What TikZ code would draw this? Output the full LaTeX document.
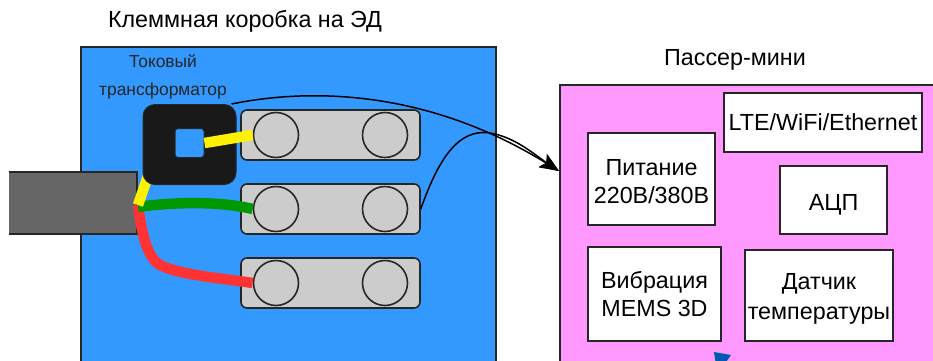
\documentclass[tikz,border=0pt]{standalone}
\usepackage{fontspec}
\setmainfont{Liberation Sans}
\usetikzlibrary{arrows.meta}
\definecolor{boxblue}{HTML}{3399FF}
\definecolor{boxpink}{HTML}{FF99FF}
\definecolor{wirered}{HTML}{FF3333}
\definecolor{wiregreen}{HTML}{009900}
\newcommand{\lowerby}[1]{\rule{0pt}{#1pt}}
\tikzset{
	panel/.style={draw=black!85,line width=1.6pt,rectangle,inner sep=0pt,anchor=north west},
	termbar/.style={draw=black!85,fill=black!20,line width=1.6pt,rectangle,rounded corners=6pt,inner sep=0pt,minimum width=179pt,minimum height=50pt},
	termpin/.style={draw=black!85,fill=black!20,line width=1.6pt,circle,inner sep=0pt,minimum size=45pt},
	modbox/.style={draw=black!85,fill=white,line width=1.6pt,rectangle,inner sep=0pt,align=center,font=\fontsize{23.3}{28}\selectfont},
	caption/.style={inner sep=0pt,font=\fontsize{23.3}{28}\selectfont},
	smallcap/.style={inner sep=0pt,text=black!85,font=\fontsize{17.4}{21}\selectfont},
	wire/.style={line width=10.5pt},
	lead/.style={draw=black,line width=1.5pt}
}
\begin{document}
\begin{tikzpicture}[x=1pt,y=-1pt]
	\useasboundingbox (0,0) rectangle (933,360);
	\fill[white] (0,0) rectangle (933,360);
	% boxes
	\node[panel,fill=boxblue,minimum width=415pt,minimum height=330pt] (junction) at (80,46) {};
	\node[panel,fill=boxpink,minimum width=390pt,minimum height=290pt] (passer) at (559,84) {};
	\node[caption] (title) at (245,21) {Клеммная коробка на ЭД};
	\node[caption] (passertitle) at (735,60) {Пассер-мини};
	\node[smallcap] (ctlabela) at (163,61) {Токовый};
	\node[smallcap] (ctlabelb) at (163,91) {трансформатор};
	% cable
	\node[fill=black!60,inner sep=0pt,minimum width=128pt,minimum height=62pt] (cable) at (73,203) {};
	\draw[black!85,line width=1.6pt] (cable.north west) -- (cable.north east) -- (cable.south east) -- (cable.south west);
	% terminals
	\foreach \n/\y in {a/135,b/209,c/283} {
		\node[termbar] (bar\n) at (330.5,\y) {};
		\node[termpin] (pin\n) at (276,\y) {};
		\node[termpin] (pout\n) at (385,\y) {};
	}
	% wires
	\coordinate (split) at (138,205);
	\coordinate (splitg) at (138,207);
	\coordinate (redbend) at (160,265);
	\draw[wire,wirered] (split) .. controls (142,235) and (147,257) .. (redbend) .. controls (180,275) and (220,278) .. (pinc.west);
	\draw[wire,wiregreen] (splitg) .. controls (165,203) and (215,200) .. (pinb.west);
	\coordinate (ctin) at (150,170);
	\draw[wire,yellow] (split) -- (ctin);
	% transformer
	\node[draw=black!85,fill=black!90,line width=1pt,rounded corners=12pt,inner sep=0pt,minimum width=93pt,minimum height=80pt] (ct) at (189.5,144.5) {};
	\node[draw=black!85,fill=boxblue,line width=1pt,rounded corners=3pt,inner sep=0pt,minimum size=29pt] (cthole) at (189.5,143) {};
	\draw[wire,yellow] (cthole.east) -- (pina.west);
	% modules
	\node[modbox,minimum width=127pt,minimum height=92pt] (power) at (651.5,179) {\lowerby{22}Питание\\220В/380В};
	\node[modbox,minimum width=198pt,minimum height=59pt] (lte) at (823,122.5) {LTE/WiFi/Ethernet};
	\node[modbox,minimum width=107pt,minimum height=68pt] (adc) at (833.5,200) {\lowerby{25}АЦП};
	\node[modbox,minimum width=133pt,minimum height=94pt] (vibr) at (654.5,294) {Вибрация\\MEMS 3D};
	\node[modbox,minimum width=148pt,minimum height=91pt] (temp) at (819,295.5) {\lowerby{22}Датчик\\[2pt]температуры};
	\coordinate (blueup) at (714,352);
	\fill[blue!50!cyan!70!black] (blueup) -- (731,355) -- (724,365) -- (716,365) -- cycle;
	% leads
	\coordinate (entry) at (559,171);
	\draw[lead,-{Stealth[length=19pt,width=15pt,inset=4pt]}] (ct.north east) ++(-5,0) .. controls (300,90) and (420,85) .. (entry);
	\draw[lead,-{Stealth[length=19pt,width=15pt,inset=4pt]}] (barb.east) .. controls (438,160) and (458,128) .. (490,133) .. controls (515,137) and (535,155) .. (entry);
\end{tikzpicture}
\end{document}
